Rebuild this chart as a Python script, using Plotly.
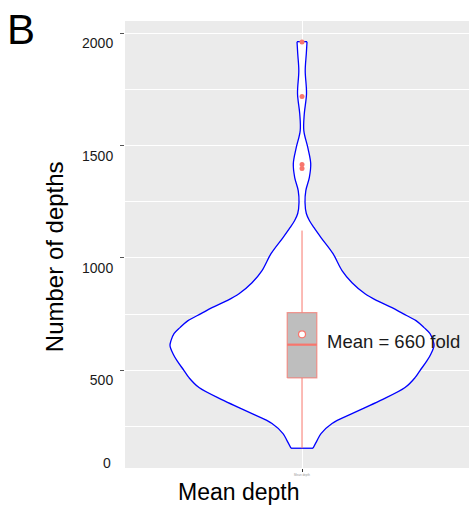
import plotly.graph_objects as go

# Violin profile: depth level and relative density (half-width, max = 1)
depth_levels = [153, 187, 218, 263, 307, 365, 423, 467, 499, 543, 574, 610, 632, 663, 690,
                721, 752, 779, 810, 841, 890, 944, 1019, 1091, 1135, 1166, 1198, 1247, 1300,
                1358, 1420, 1491, 1567, 1643, 1732, 1834, 1910, 1963]
half_width_px = [11, 15, 19, 30, 50, 78, 103, 113, 118, 125, 129, 132, 131, 128, 122,
                 114, 101, 90, 75, 63, 50, 40, 31, 19, 12, 7.5, 4.3, 3, 3.8,
                 7.3, 8.7, 5.8, 1.8, 2.3, 4.5, 3.2, 4.3, 5]
density = [w / 132.0 for w in half_width_px]

# Box statistics
q1, median, q3 = 466, 614, 757
lower_fence, upper_fence = 153, 1122
mean_value = 660
outliers = [1962, 1719, 1416, 1398]

y_ticks = [500, 1000, 1500, 2000]
y_ticktext = ["500", "1000", "1500", "2000"]

FONT = "Liberation Sans, Arial, Helvetica, sans-serif"
SALMON = "#F8766D"
BOX_HALF = 0.112

fig = go.Figure()

# violin outline: each side drawn as a smooth curve, flat ends joining them
right_x = density
left_x = [-d for d in density]
fig.add_trace(go.Scatter(x=right_x + left_x[::-1], y=depth_levels + depth_levels[::-1],
                         mode="none", fill="toself", fillcolor="white",
                         hoverinfo="skip", showlegend=False))
for xs in (right_x, left_x):
    fig.add_trace(go.Scatter(x=xs, y=depth_levels, mode="lines",
                             line=dict(color="#0000FF", width=1.3, shape="spline", smoothing=1.0),
                             hoverinfo="skip", showlegend=False))
for idx in (0, -1):
    fig.add_trace(go.Scatter(x=[left_x[idx], right_x[idx]], y=[depth_levels[idx]] * 2,
                             mode="lines", line=dict(color="#0000FF", width=1.3),
                             hoverinfo="skip", showlegend=False))

# box plot drawn from its statistics
fig.add_trace(go.Scatter(x=[0, 0, None, 0, 0], y=[lower_fence, q1, None, q3, upper_fence],
                         mode="lines", line=dict(color=SALMON, width=1),
                         hoverinfo="skip", showlegend=False))
fig.add_trace(go.Scatter(x=[-BOX_HALF, BOX_HALF, BOX_HALF, -BOX_HALF, -BOX_HALF],
                         y=[q1, q1, q3, q3, q1], mode="lines", fill="toself",
                         fillcolor="#BEBEBE", line=dict(color="rgba(248,118,109,0.7)", width=1.3),
                         hoverinfo="skip", showlegend=False))
fig.add_trace(go.Scatter(x=[-BOX_HALF, BOX_HALF], y=[median, median], mode="lines",
                         line=dict(color=SALMON, width=2.2), hoverinfo="skip", showlegend=False))

fig.add_trace(go.Scatter(x=[0] * len(outliers), y=outliers, mode="markers",
                         marker=dict(color=SALMON, size=5), showlegend=False))

fig.add_trace(go.Scatter(x=[0], y=[mean_value], mode="markers",
                         marker=dict(color="white", size=7, line=dict(color=SALMON, width=1.2)),
                         showlegend=False))

fig.add_annotation(x=0.174, y=630, xref="x", yref="y", text="Mean = 660 fold",
                   showarrow=False, xanchor="left", yanchor="middle",
                   font=dict(family=FONT, size=18.5, color="#1a1a1a"))

fig.add_annotation(x=-0.301, y=0.982, xref="paper", yref="paper", text="B",
                   showarrow=False, xanchor="center", yanchor="middle",
                   font=dict(family=FONT, size=42, color="black"))

fig.add_annotation(x=-0.206, y=0.472, xref="paper", yref="paper", text="Number of depths",
                   textangle=-90, showarrow=False, xanchor="center", yanchor="middle",
                   font=dict(family=FONT, size=24, color="black"))

fig.add_annotation(x=0.331, y=0, xref="paper", yref="paper", text="Mean depth",
                   showarrow=False, xanchor="center", yanchor="middle", yshift=-24,
                   font=dict(family=FONT, size=23, color="black"))

fig.add_annotation(x=0, y=0, xref="paper", yref="paper", text="0",
                   showarrow=False, xanchor="right", yanchor="middle", xshift=-12, yshift=5,
                   font=dict(family=FONT, size=14, color="#1a1a1a"))

fig.update_layout(
    width=469, height=505,
    margin=dict(l=125, r=0, t=21, b=37),
    paper_bgcolor="white", plot_bgcolor="#EBEBEB",
    showlegend=False,
    xaxis=dict(range=[-1.341, 1.265], tickvals=[0], ticktext=["Mean depth"],
               tickfont=dict(family=FONT, size=3, color="#999999"),
               showgrid=True, gridcolor="white", gridwidth=1.2, zeroline=False,
               ticks="outside", ticklen=3, tickcolor="#333333", showline=False),
    yaxis=dict(range=[65, 2055], tickvals=y_ticks, ticktext=y_ticktext,
               tickfont=dict(family=FONT, size=14, color="#1a1a1a"),
               ticklabelshift=10, ticklabelstandoff=4,
               showgrid=True, gridcolor="white", gridwidth=1.2, zeroline=False,
               minor=dict(dtick=250, tick0=0, showgrid=True, gridcolor="white", gridwidth=0.8),
               ticks="outside", ticklen=4, tickcolor="#555555", showline=False),
)

fig.write_html("out.html")
